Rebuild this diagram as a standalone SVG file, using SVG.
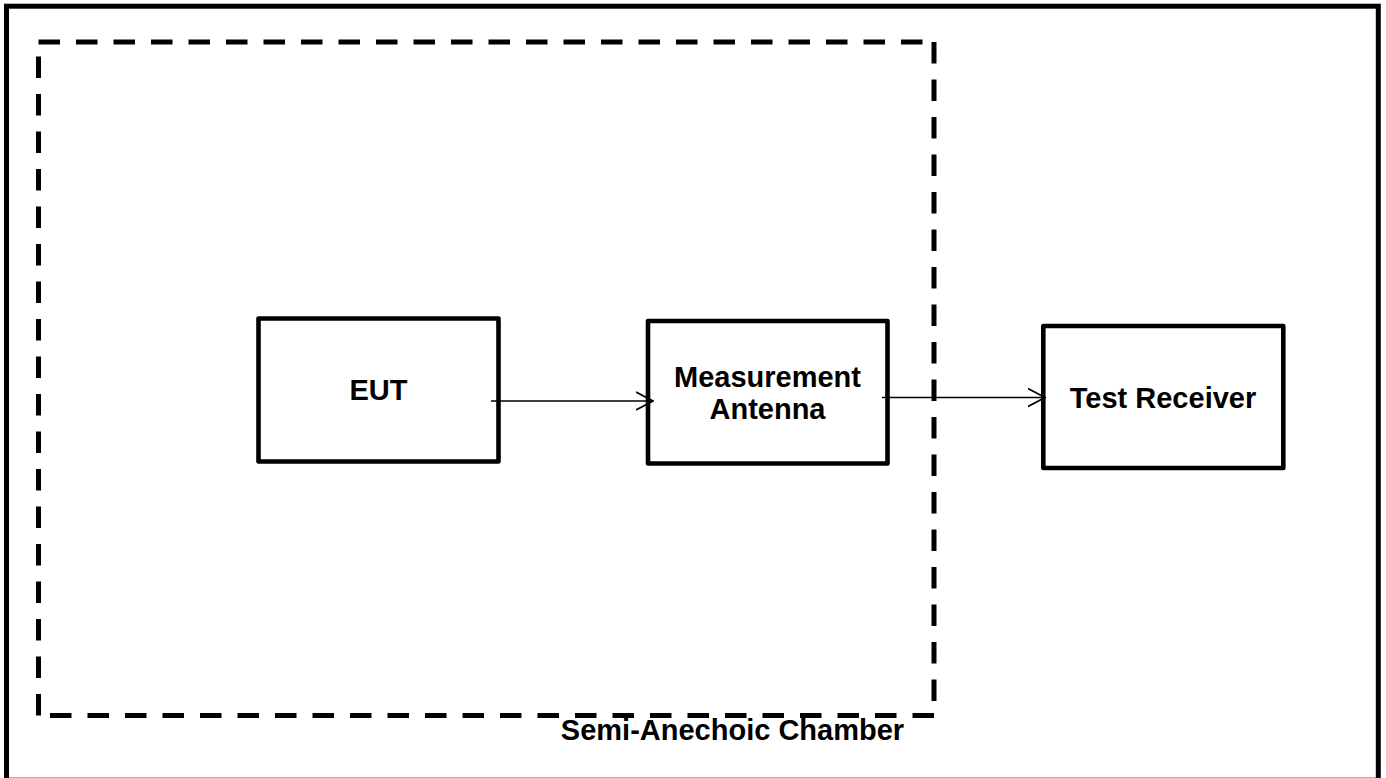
<svg xmlns="http://www.w3.org/2000/svg" width="1386" height="778" viewBox="0 0 1386 778">
<defs>
<style>
.frame{fill:none;stroke:#000;stroke-width:5}
.chamber{fill:none;stroke:#000;stroke-width:5;stroke-dasharray:21.5 16;stroke-linecap:butt}
.box{fill:none;stroke:#000;stroke-width:4.6;stroke-linejoin:round}
.lbl{font-family:"Liberation Sans",Arial,sans-serif;font-weight:bold;font-size:29px;fill:#000;text-anchor:middle}
.conn{fill:none;stroke:#000;stroke-width:1.6}
</style>
<marker id="arrow" viewBox="0 0 18 20" refX="17" refY="10" markerWidth="18" markerHeight="20" markerUnits="userSpaceOnUse" orient="auto">
<path d="M0,1 L17,10 L0,19" fill="none" stroke="#000" stroke-width="1.6"/>
</marker>
</defs>
<rect width="1386" height="778" fill="#fff"/>
<rect class="frame" x="6.5" y="6.2" width="1371.8" height="774"/>
<g id="chamber">
<line class="chamber" x1="38.5" y1="42" x2="934" y2="42"/>
<line class="chamber" x1="934" y1="42" x2="934" y2="715.5"/>
<line class="chamber" x1="934" y1="715.5" x2="38.5" y2="715.5"/>
<line class="chamber" x1="38.5" y1="715.5" x2="38.5" y2="42"/>
<text class="lbl" x="732.5" y="740">Semi-Anechoic Chamber</text>
</g>
<g id="eut">
<rect class="box" x="258.5" y="318.5" width="240" height="143"/>
<text class="lbl" x="378.5" y="400">EUT</text>
</g>
<g id="antenna">
<rect class="box" x="648" y="321" width="239.5" height="142.5"/>
<text class="lbl" x="767.5" y="386.7">Measurement</text>
<text class="lbl" x="767.5" y="419">Antenna</text>
</g>
<g id="receiver">
<rect class="box" x="1043.3" y="326" width="240" height="142"/>
<text class="lbl" x="1163" y="408.3">Test Receiver</text>
</g>
<g id="connectors">
<line class="conn" x1="491" y1="401" x2="653" y2="401" marker-end="url(#arrow)"/>
<line class="conn" x1="882" y1="397.5" x2="1045" y2="397.5" marker-end="url(#arrow)"/>
</g>
</svg>
